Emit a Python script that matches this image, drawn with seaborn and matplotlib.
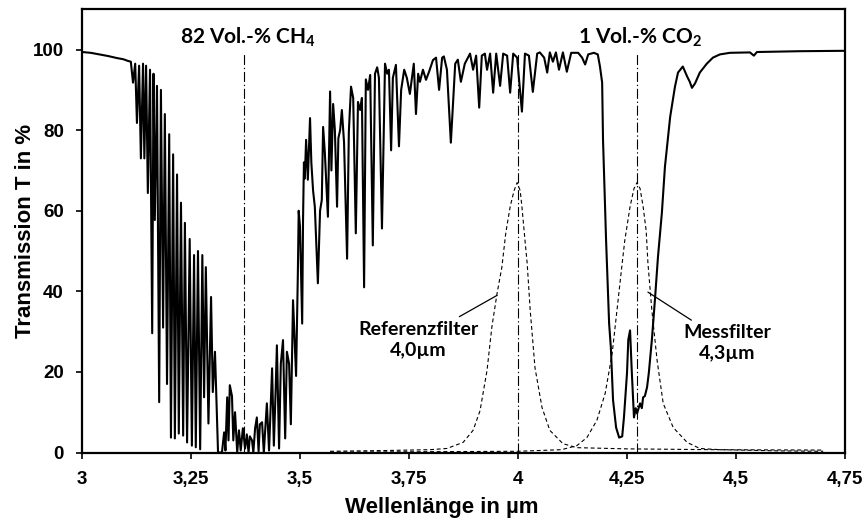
import numpy as np
import pandas as pd
import seaborn as sns
import matplotlib.pyplot as plt

# transmission spectrum, 82 Vol.-% CH4 + 1 Vol.-% CO2
wavelength = [
    3.000, 3.020, 3.040, 3.060, 3.080, 3.095, 3.105,
    3.112, 3.117, 3.122, 3.126, 3.131, 3.135, 3.140, 3.143, 3.147, 3.151,
    3.156, 3.161, 3.164, 3.167, 3.172, 3.177, 3.181, 3.186, 3.190, 3.195,
    3.200, 3.204, 3.209, 3.213, 3.218, 3.222, 3.227, 3.232, 3.236, 3.241,
    3.247, 3.252, 3.257, 3.261, 3.266, 3.271, 3.276, 3.280, 3.284, 3.290,
    3.296, 3.300, 3.305, 3.312, 3.321, 3.326, 3.329, 3.333, 3.336, 3.339,
    3.344, 3.347, 3.351, 3.356, 3.360, 3.364, 3.369, 3.374, 3.378, 3.382,
    3.385, 3.390, 3.393, 3.397, 3.401, 3.405, 3.408, 3.413, 3.417, 3.424,
    3.429, 3.436, 3.440, 3.444, 3.447, 3.452, 3.456, 3.461, 3.466, 3.470,
    3.475, 3.479, 3.484, 3.487, 3.491, 3.495, 3.497, 3.500, 3.505, 3.507,
    3.509, 3.511, 3.514, 3.518, 3.523, 3.526, 3.530, 3.534, 3.541, 3.546,
    3.550, 3.553, 3.557, 3.564, 3.569, 3.572, 3.576, 3.580, 3.585, 3.588,
    3.592, 3.596, 3.601, 3.608, 3.612, 3.617, 3.622, 3.628, 3.633, 3.638,
    3.642, 3.647, 3.651, 3.656, 3.661, 3.667, 3.672, 3.677, 3.681, 3.688,
    3.695, 3.700, 3.704, 3.709, 3.713, 3.720, 3.727, 3.732, 3.739, 3.745,
    3.752, 3.761, 3.766, 3.771, 3.775, 3.782, 3.789, 3.796, 3.805, 3.812,
    3.819, 3.826, 3.830, 3.837, 3.846, 3.856, 3.862, 3.869, 3.878, 3.890,
    3.897, 3.904, 3.911, 3.917, 3.924, 3.929, 3.936, 3.943, 3.950, 3.959,
    3.966, 3.975, 3.982, 3.989, 3.998, 4.009, 4.016, 4.025, 4.034, 4.044,
    4.050, 4.060, 4.067, 4.073, 4.080, 4.087, 4.094, 4.103, 4.112, 4.122,
    4.138, 4.147, 4.154, 4.161, 4.174, 4.183, 4.188, 4.193, 4.195, 4.202,
    4.209, 4.213, 4.218, 4.225, 4.232, 4.239, 4.243, 4.250, 4.253, 4.257,
    4.261, 4.266, 4.270, 4.273, 4.278, 4.280, 4.284, 4.287, 4.291, 4.296,
    4.300, 4.307, 4.314, 4.321, 4.330, 4.337, 4.349, 4.360, 4.367, 4.378,
    4.388, 4.394, 4.399, 4.406, 4.417, 4.433, 4.447, 4.463, 4.486, 4.532,
    4.541, 4.548, 4.647, 4.750,
]
transmission = [
    99.4, 99.2, 98.8, 98.4, 97.9, 97.6, 97.2,
    97.0, 91.8, 96.5, 81.8, 96.0, 73.0, 96.5, 73.0, 96.0, 64.4,
    95.0, 29.6, 94.0, 57.7, 91.0, 12.5, 90.0, 31.0, 84.0, 17.0,
    79.0, 3.7, 74.0, 3.5, 69.0, 4.7, 62.0, 4.2, 57.0, 2.5,
    53.0, 1.7, 49.0, 1.3, 50.0, 0.8, 49.0, 13.7, 46.0, 7.2,
    38.6, 15.0, 25.0, 0.0, 0.0, 5.0, 0.5, 13.7, 3.0, 16.7,
    14.0, 3.0, 10.0, 0.0, 5.5, 0.5, 6.0, 1.0, 4.5, 0.0,
    4.0, 3.0, 0.0, 6.0, 8.7, 0.3, 7.0, 7.5, 0.0, 12.2,
    0.5, 20.9, 1.7, 15.0, 26.6, 1.0, 22.0, 27.9, 3.5, 25.0,
    22.0, 7.0, 37.8, 30.0, 19.0, 44.0, 60.0, 56.0, 32.0, 58.0,
    72.0, 68.0, 77.6, 67.7, 83.0, 72.0, 65.0, 61.0, 42.0, 60.0,
    62.7, 80.8, 74.4, 58.5, 89.6, 70.0, 86.5, 80.0, 61.0, 78.0,
    80.0, 85.0, 77.0, 48.1, 79.5, 90.8, 88.0, 54.4, 87.0, 85.0,
    88.0, 41.0, 92.6, 90.0, 93.7, 51.4, 94.0, 95.6, 93.0, 55.6,
    96.5, 94.0, 95.0, 75.0, 93.0, 96.2, 76.0, 90.0, 95.0, 93.0,
    89.0, 96.5, 84.0, 94.0, 92.0, 95.0, 92.5, 94.5, 97.4, 98.0,
    90.0, 98.0, 98.3, 95.0, 76.9, 96.5, 97.5, 92.0, 96.5, 99.0,
    95.0, 98.5, 85.6, 98.5, 99.0, 95.0, 99.0, 89.3, 99.0, 91.0,
    99.0, 98.5, 89.3, 99.0, 98.0, 84.6, 99.0, 98.5, 89.5, 99.0,
    99.3, 98.0, 94.3, 99.3, 97.0, 99.3, 95.0, 99.3, 94.5, 99.2,
    99.2, 98.0, 96.3, 98.8, 99.2, 98.8, 95.8, 91.8, 77.6, 52.7,
    32.0, 26.0, 13.0, 6.2, 3.7, 4.0, 8.7, 19.7, 28.0, 30.3,
    20.0, 8.7, 11.0, 9.7, 11.5, 12.2, 11.0, 13.7, 14.0, 16.2,
    19.7, 27.9, 37.8, 48.5, 59.5, 70.9, 83.3, 90.8, 94.3, 95.8,
    93.3, 92.0, 90.5, 91.6, 94.3, 96.5, 98.0, 98.8, 99.2, 99.3,
    98.5, 99.4, 99.6, 99.7,
]

# filter curves
ref_filter_wl = [3.569, 3.700, 3.798, 3.837, 3.874, 3.897, 3.913, 3.929, 3.940,
                 3.952, 3.963, 3.972, 3.982, 3.991, 3.998, 4.005, 4.009, 4.016,
                 4.021, 4.028, 4.039, 4.055, 4.073, 4.103, 4.135, 4.250, 4.450,
                 4.700]
ref_filter_t = [0.3, 0.5, 0.7, 1.0, 2.5, 5.5, 10.4, 20.4, 31.1,
                39.5, 46.0, 54.5, 61.0, 65.0, 67.0, 65.0, 61.0, 52.7,
                47.0, 35.3, 21.0, 11.2, 5.5, 2.2, 1.2, 0.9, 0.7,
                0.6]
mess_filter_wl = [3.569, 3.800, 4.000, 4.100, 4.135, 4.158, 4.181, 4.200, 4.216,
                  4.227, 4.239, 4.245, 4.257, 4.266, 4.273, 4.280, 4.287, 4.294,
                  4.298, 4.307, 4.319, 4.333, 4.356, 4.388, 4.417, 4.463, 4.600,
                  4.700]
mess_filter_t = [0.1, 0.2, 0.3, 0.7, 1.7, 3.7, 8.0, 14.7, 24.6,
                 35.3, 47.0, 52.7, 61.0, 65.5, 67.0, 65.5, 61.0, 55.0,
                 47.0, 35.3, 22.9, 12.2, 6.2, 2.5, 1.0, 0.7, 0.4,
                 0.3]

# dash-dot marker lines (CH4 band, reference filter, CO2 / measuring filter)
marker_x = [3.372, 4.0, 4.273]
marker_top = 99

x_ticks = [3, 3.25, 3.5, 3.75, 4, 4.25, 4.5, 4.75]
x_ticklabels = ['3', '3,25', '3,5', '3,75', '4', '4,25', '4,5', '4,75']
y_ticks = [0, 20, 40, 60, 80, 100]

sns.set_style("ticks")
plt.rcParams['font.family'] = ['Liberation Sans', 'DejaVu Sans']
plt.rcParams['mathtext.fontset'] = 'custom'
plt.rcParams['mathtext.rm'] = 'Lato:bold'
plt.rcParams['mathtext.it'] = 'Lato:bold'
plt.rcParams['mathtext.default'] = 'rm'
for key in ['text.color', 'axes.labelcolor', 'xtick.color', 'ytick.color', 'axes.edgecolor']:
    plt.rcParams[key] = 'black'

fig = plt.figure(figsize=(8.67, 5.26), dpi=100)
ax = fig.add_axes([82 / 867, 1 - 452.5 / 526, 763 / 867, 443.2 / 526])

ax.vlines(marker_x, 0, marker_top, colors='black', lw=0.8,
          linestyles=[(0, (9, 2.5, 1.2, 2.5))])

sns.lineplot(x=ref_filter_wl, y=ref_filter_t, color='black', lw=0.8,
             linestyle=(0, (3.5, 2.5)), estimator=None, sort=False, ax=ax)
sns.lineplot(x=mess_filter_wl, y=mess_filter_t, color='black', lw=0.8,
             linestyle=(0, (3.5, 2.5)), estimator=None, sort=False, ax=ax)
sns.lineplot(x=wavelength, y=transmission, color='black', lw=1.5,
             estimator=None, sort=False, ax=ax)

ax.set_xlim(3, 4.75)
ax.set_ylim(0, 110)
ax.set_xticks(x_ticks)
ax.set_xticklabels(x_ticklabels)
ax.set_yticks(y_ticks)
ax.tick_params(direction='out', length=4, width=1.2, pad=9, labelsize=13.5)
for lab in ax.get_xticklabels() + ax.get_yticklabels():
    lab.set_fontweight('bold')
for sp in ax.spines.values():
    sp.set_linewidth(1.6)

ax.set_xlabel('Wellenlänge in µm', fontsize=16, fontweight='bold')
ax.set_ylabel('Transmission T in %', fontsize=16, fontweight='bold')
ax.xaxis.set_label_coords(0.472, -0.10)
ax.yaxis.set_label_coords(-0.06, 0.5)

note_font = dict(family='Lato', weight='bold', color='black')
ax.text(3.381, 103, '82 Vol.-% CH$_4$', ha='center', va='center', fontsize=15, **note_font)
ax.text(4.280, 103, '1 Vol.-% CO$_2$', ha='center', va='center', fontsize=15, **note_font)

ax.annotate('Referenzfilter\n4,0µm', xy=(3.952, 39.0), xytext=(3.772, 28.0),
            ha='center', va='center', fontsize=14, linespacing=1.3,
            arrowprops=dict(arrowstyle='-', lw=0.9, color='black', shrinkA=1, shrinkB=0),
            **note_font)
ax.annotate('Messfilter\n4,3µm', xy=(4.298, 39.8), xytext=(4.480, 27.1),
            ha='center', va='center', fontsize=14, linespacing=1.3,
            arrowprops=dict(arrowstyle='-', lw=0.9, color='black', shrinkA=1, shrinkB=0),
            **note_font)

fig.savefig('out.png', dpi=100)
